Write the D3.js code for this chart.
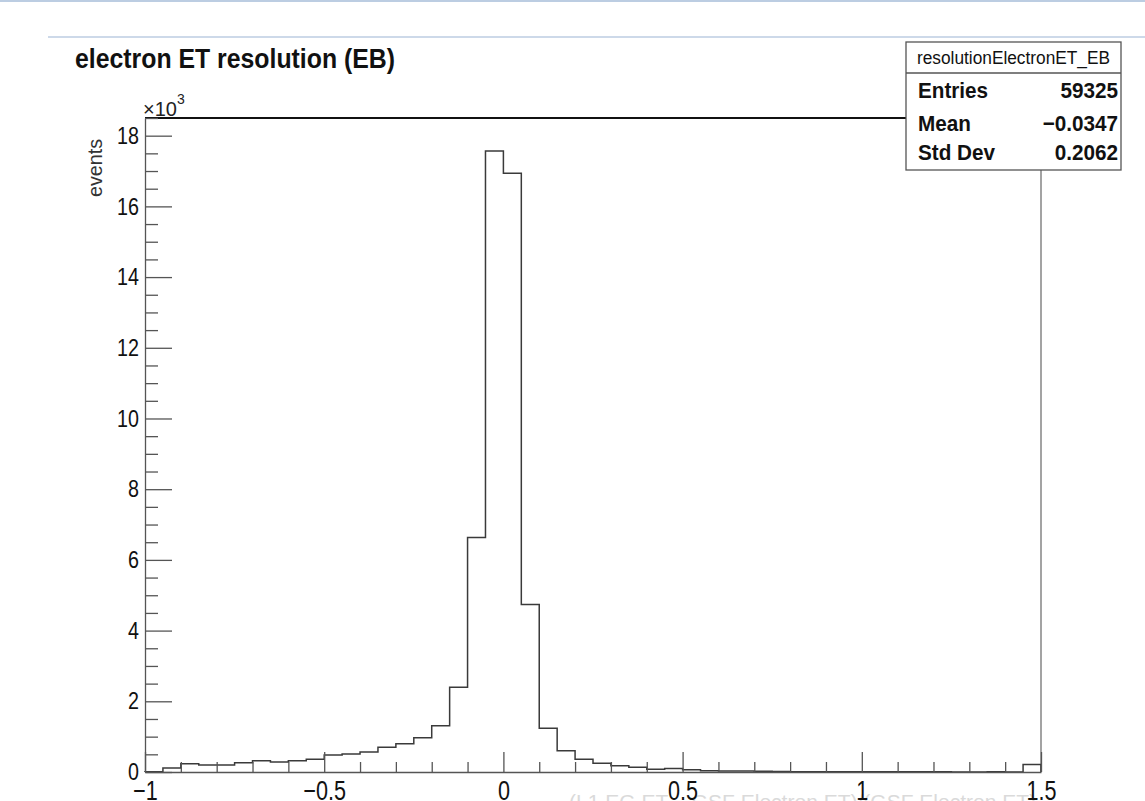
<!DOCTYPE html>
<html>
<head>
<meta charset="utf-8">
<script src="https://cdn.jsdelivr.net/npm/d3@7"></script>
<style>
  body { margin: 0; background: #fff; }
  svg text { font-family: "Liberation Sans", Arial, Helvetica, sans-serif; }
</style>
</head>
<body>
<svg id="chart" width="1145" height="801"></svg>
<script>
// histogram bins (low edge, width 0.05) and counts
const binLow = [-1.00, -0.95, -0.90, -0.85, -0.80, -0.75, -0.70, -0.65, -0.60, -0.55,
                -0.50, -0.45, -0.40, -0.35, -0.30, -0.25, -0.20, -0.15, -0.10, -0.05,
                 0.00,  0.05,  0.10,  0.15,  0.20,  0.25,  0.30,  0.35,  0.40,  0.45,
                 0.50,  0.55,  0.60,  0.65,  0.70,  0.75,  0.80,  0.85,  0.90,  0.95,
                 1.00,  1.05,  1.10,  1.15,  1.20,  1.25,  1.30,  1.35,  1.40,  1.45];
const binWidth = 0.05;
const counts = [5, 110, 235, 200, 200, 260, 320, 280, 320, 360,
                480, 510, 565, 700, 800, 970, 1310, 2400, 6630, 17570,
                16940, 4740, 1240, 600, 360, 245, 180, 135, 80, 100,
                65, 35, 30, 25, 20, 15, 8, 7, 6, 6,
                5, 5, 4, 4, 4, 3, 0, 4, 0, 210];

const xMajor = [-1, -0.5, 0, 0.5, 1, 1.5];
const xMinor = [-0.9, -0.8, -0.7, -0.6, -0.4, -0.3, -0.2, -0.1, 0.1, 0.2, 0.3, 0.4,
                0.6, 0.7, 0.8, 0.9, 1.1, 1.2, 1.3, 1.4];
const yMajor = [0, 2000, 4000, 6000, 8000, 10000, 12000, 14000, 16000, 18000];

const statsName = "resolutionElectronET_EB";
const statsRows = [["Entries", "59325"], ["Mean", "\u22120.0347"], ["Std Dev", "0.2062"]];

const titleText = "electron ET resolution (EB)";
const yTitle = "events";
const xTitle = "(L1 EG ET \u2212 GSF Electron ET)/(GSF Electron ET)";

// frame
const fL = 145, fR = 1041, fT = 118, fB = 772;

const svg = d3.select("#chart");

const x = d3.scaleLinear().domain([-1, 1.5]).range([fL, fR]);
const y = d3.scaleLinear().domain([0, 18500]).range([fB, fT]);

// squeeze text a bit horizontally, like the original rendering
function squeeze(sel, f) {
  sel.each(function() {
    const w = this.getComputedTextLength();
    d3.select(this).attr("textLength", w * f).attr("lengthAdjust", "spacingAndGlyphs");
  });
}

// thin bluish lines of the window
svg.append("line").attr("x1", 0).attr("x2", 1145).attr("y1", 1).attr("y2", 1)
  .attr("stroke", "#bccde2").attr("stroke-width", 2);
svg.append("line").attr("x1", 48).attr("x2", 1145).attr("y1", 37).attr("y2", 37)
  .attr("stroke", "#bccde2").attr("stroke-width", 1.5);

// x axis title (mostly hidden under the labels)
svg.append("text")
  .attr("x", 1036).attr("y", 809)
  .attr("text-anchor", "end")
  .attr("font-size", 21)
  .attr("fill", "#dadada")
  .text(xTitle);

// frame lines
svg.append("line").attr("x1", fL).attr("x2", 906).attr("y1", fT).attr("y2", fT)
  .attr("stroke", "#111").attr("stroke-width", 2);
svg.append("line").attr("x1", fR).attr("x2", fR).attr("y1", fT).attr("y2", fB)
  .attr("stroke", "#666").attr("stroke-width", 1.2);

// histogram outline
const pts = [[binLow[0], 0]];
binLow.forEach((lo, i) => {
  pts.push([lo, counts[i]]);
  pts.push([lo + binWidth, counts[i]]);
});
pts.push([binLow[binLow.length - 1] + binWidth, 0]);

const line = d3.line().x(d => x(d[0])).y(d => y(d[1]));
svg.append("path")
  .attr("d", line(pts))
  .attr("fill", "none")
  .attr("stroke", "#3a3a3a")
  .attr("stroke-width", 1.5);

// y axis
const yAxis = svg.append("g")
  .attr("transform", `translate(${fL},0)`)
  .call(d3.axisLeft(y).tickValues(yMajor).tickSize(-27).tickSizeOuter(0).tickPadding(6)
    .tickFormat(d => d / 1000));
svg.append("g")
  .attr("transform", `translate(${fL},0)`)
  .call(d3.axisLeft(y).tickValues(d3.range(500, 18600, 500).filter(v => v % 2000 !== 0))
    .tickSize(-13).tickSizeOuter(0).tickFormat(""))
  .select(".domain").remove();

// x axis
const xAxis = svg.append("g")
  .attr("transform", `translate(0,${fB})`)
  .call(d3.axisBottom(x).tickValues(xMajor).tickSize(-20).tickSizeOuter(0).tickPadding(9)
    .tickFormat(d3.format("~g")));
svg.append("g")
  .attr("transform", `translate(0,${fB})`)
  .call(d3.axisBottom(x).tickValues(xMinor).tickSize(-10).tickSizeOuter(0).tickFormat(""))
  .select(".domain").remove();

svg.selectAll(".domain").attr("stroke", "#555").attr("stroke-width", 1.3);
svg.selectAll(".tick line").attr("stroke", "#555").attr("stroke-width", 1.3);

yAxis.selectAll(".tick text").attr("font-size", 24).attr("fill", "#111")
  .attr("font-family", "Liberation Sans, Arial, sans-serif").call(squeeze, 0.82);
xAxis.selectAll(".tick text").attr("font-size", 27).attr("fill", "#111")
  .attr("font-family", "Liberation Sans, Arial, sans-serif").call(squeeze, 0.8);

// exponent label
const expo = svg.append("text").attr("x", 143).attr("y", 116).attr("font-size", 20).attr("fill", "#222");
expo.append("tspan").text("\u00d710");
expo.append("tspan").attr("dy", -12).attr("font-size", 14).text("3");

// y axis title
svg.append("text")
  .attr("transform", "translate(102,139) rotate(-90)")
  .attr("text-anchor", "end")
  .attr("font-size", 20)
  .attr("fill", "#333")
  .attr("textLength", 58).attr("lengthAdjust", "spacingAndGlyphs")
  .text(yTitle);

// title
svg.append("text")
  .attr("x", 75).attr("y", 68)
  .attr("font-size", 28)
  .attr("font-weight", "bold")
  .attr("fill", "#111")
  .attr("textLength", 320).attr("lengthAdjust", "spacingAndGlyphs")
  .text(titleText);

// stats box
const sb = { x0: 906, x1: 1121, y0: 42, y1: 170 };
svg.append("rect")
  .attr("x", sb.x0).attr("y", sb.y0)
  .attr("width", sb.x1 - sb.x0).attr("height", sb.y1 - sb.y0)
  .attr("fill", "#fff").attr("stroke", "#555").attr("stroke-width", 1.3);
svg.append("line").attr("x1", sb.x0).attr("x2", sb.x1).attr("y1", 73).attr("y2", 73)
  .attr("stroke", "#555").attr("stroke-width", 1.3);
svg.append("text")
  .attr("x", (sb.x0 + sb.x1) / 2).attr("y", 64)
  .attr("text-anchor", "middle")
  .attr("font-size", 18).attr("fill", "#111")
  .attr("textLength", 193).attr("lengthAdjust", "spacingAndGlyphs")
  .text(statsName);

const rowY = [98, 131, 160];
statsRows.forEach((r, i) => {
  svg.append("text").attr("x", 918).attr("y", rowY[i])
    .attr("font-size", 22).attr("font-weight", "bold").attr("fill", "#111")
    .text(r[0]).call(squeeze, 0.94);
  svg.append("text").attr("x", 1118).attr("y", rowY[i]).attr("text-anchor", "end")
    .attr("font-size", 22).attr("font-weight", "bold").attr("fill", "#111")
    .text(r[1]).call(squeeze, 0.94);
});
</script>
</body>
</html>
